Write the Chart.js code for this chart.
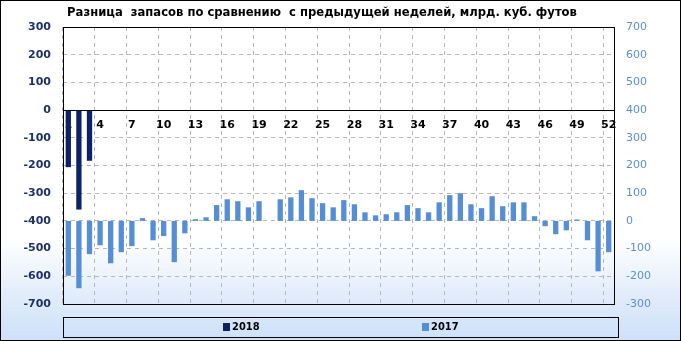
<!DOCTYPE html>
<html>
<head>
<meta charset="utf-8">
<script src="https://cdn.jsdelivr.net/npm/chart.js@4.4.1/dist/chart.umd.min.js"></script>
<style>
  html, body { margin: 0; padding: 0; background: #fff; }
  #wrap { width: 681px; height: 341px; position: relative; }
</style>
</head>
<body>
<div id="wrap"><canvas id="bars"></canvas></div>
<script>
var chartTitle = "Разница  запасов по сравнению  с предыдущей неделей, млрд. куб. футов";

var weeks = ["1", "2", "3", "4", "5", "6", "7", "8", "9", "10", "11", "12", "13",
  "14", "15", "16", "17", "18", "19", "20", "21", "22", "23", "24", "25", "26",
  "27", "28", "29", "30", "31", "32", "33", "34", "35", "36", "37", "38", "39",
  "40", "41", "42", "43", "44", "45", "46", "47", "48", "49", "50", "51", "52"];

// 2018, left axis
var values2018 = [-206, -359, -183];

// 2017, right axis
var values2017 = [-198, -243, -120, -88, -153, -113, -91, 10, -70, -55, -149, -45, 6,
  13, 57, 78, 71, 49, 71, 0, 78, 85, 111, 82, 64, 49,
  75, 60, 31, 20, 24, 31, 57, 46, 31, 67, 93, 100, 60,
  46, 89, 53, 67, 67, 17, -19, -48, -34, 5, -70, -182, -113];

var leftTicks = [-700, -600, -500, -400, -300, -200, -100, 0, 100, 200, 300];
var rightTicks = [-300, -200, -100, 0, 100, 200, 300, 400, 500, 600, 700];

var navy = "#0c2262";
var blue = "#558ed5";
var gridGrey = "#b8b8b8";

var frame = {
  id: "frame",
  beforeDraw: function (chart) {
    var c = chart.ctx, w = chart.width, h = chart.height;
    var g = c.createLinearGradient(0, 0, 0, h);
    g.addColorStop(0, "#ffffff");
    g.addColorStop(0.7, "#ffffff");
    g.addColorStop(0.88, "#dfebfa");
    g.addColorStop(1, "#cce1fa");
    c.save();
    c.fillStyle = g;
    c.fillRect(0, 0, w, h);
    c.restore();
  },
  afterDraw: function (chart) {
    var c = chart.ctx, a = chart.chartArea, w = chart.width, h = chart.height;
    c.save();
    c.strokeStyle = "#000";
    c.lineWidth = 1;
    c.strokeRect(Math.round(a.left) + 0.5, Math.round(a.top) + 0.5,
      Math.round(a.right - a.left), Math.round(a.bottom - a.top));
    c.strokeRect(0.5, 0.5, w - 1, h - 1);

    c.fillStyle = "#000";
    c.font = "bold 11.6px 'DejaVu Sans'";
    c.textAlign = "center";
    c.textBaseline = "middle";
    c.fillText(chartTitle, 322, 13);

    // legend box
    c.strokeRect(63.5, 317.5, 555, 20);
    var spots = [223, 422];
    c.font = "bold 11px 'DejaVu Sans Condensed', 'DejaVu Sans'";
    c.textAlign = "left";
    chart.data.datasets.forEach(function (ds, i) {
      c.fillStyle = ds.backgroundColor;
      c.fillRect(spots[i], 323, 7, 8);
      c.fillStyle = "#000";
      c.fillText(ds.label, spots[i] + 9, 327.5);
    });
    c.restore();
  }
};

var ctx = document.getElementById("bars").getContext("2d");
var myChart = new Chart(ctx, {
  type: "bar",
  data: {
    labels: weeks,
    datasets: [
      {
        label: "2018",
        data: values2018,
        backgroundColor: navy,
        yAxisID: "y",
        grouped: false,
        barPercentage: 0.5,
        categoryPercentage: 1,
      },
      {
        label: "2017",
        data: values2017,
        backgroundColor: blue,
        yAxisID: "y1",
        grouped: false,
        barPercentage: 0.5,
        categoryPercentage: 1,
      },
    ],
  },
  plugins: [frame],
  options: {
    responsive: true,
    maintainAspectRatio: false,
    animation: false,
    layout: { padding: { top: 27, bottom: 37, left: 0, right: 0 } },
    plugins: {
      legend: { display: false },
      title: { display: false },
      tooltip: { enabled: false },
    },
    scales: {
      x: {
        position: { y: 0 },
        offset: true,
        grid: {
          offset: true,
          drawTicks: false,
          lineWidth: 1,
          color: function (c) { return c.index % 3 === 0 ? gridGrey : "rgba(0,0,0,0)"; },
        },
        border: { display: true, color: "#000", width: 1, dash: [4, 4], dashOffset: 0 },
        ticks: {
          autoSkip: false,
          maxRotation: 0,
          padding: 8,
          color: "#000",
          font: { family: "DejaVu Sans", size: 11, weight: "bold" },
          callback: function (v, i) { return i % 3 === 0 ? weeks[i] : ""; },
        },
      },
      y: {
        position: "left",
        min: leftTicks[0],
        max: leftTicks[leftTicks.length - 1],
        afterBuildTicks: function (s) { s.ticks = leftTicks.map(function (v) { return { value: v }; }); },
        afterFit: function (s) { s.width = 63; },
        grid: { color: gridGrey, lineWidth: 1, drawTicks: false },
        border: { display: false, dash: [4, 4], dashOffset: 0 },
        ticks: {
          padding: 12,
          color: "#1f3068",
          font: { family: "DejaVu Sans", size: 11, weight: "bold" },
        },
      },
      y1: {
        position: "right",
        min: rightTicks[0],
        max: rightTicks[rightTicks.length - 1],
        afterBuildTicks: function (s) { s.ticks = rightTicks.map(function (v) { return { value: v }; }); },
        afterFit: function (s) { s.width = 67; },
        grid: { display: false, drawTicks: false },
        border: { display: false },
        ticks: {
          padding: 12,
          color: "#5a8fd8",
          font: { family: "DejaVu Sans", size: 11 },
        },
      },
    },
  },
});
</script>
</body>
</html>
